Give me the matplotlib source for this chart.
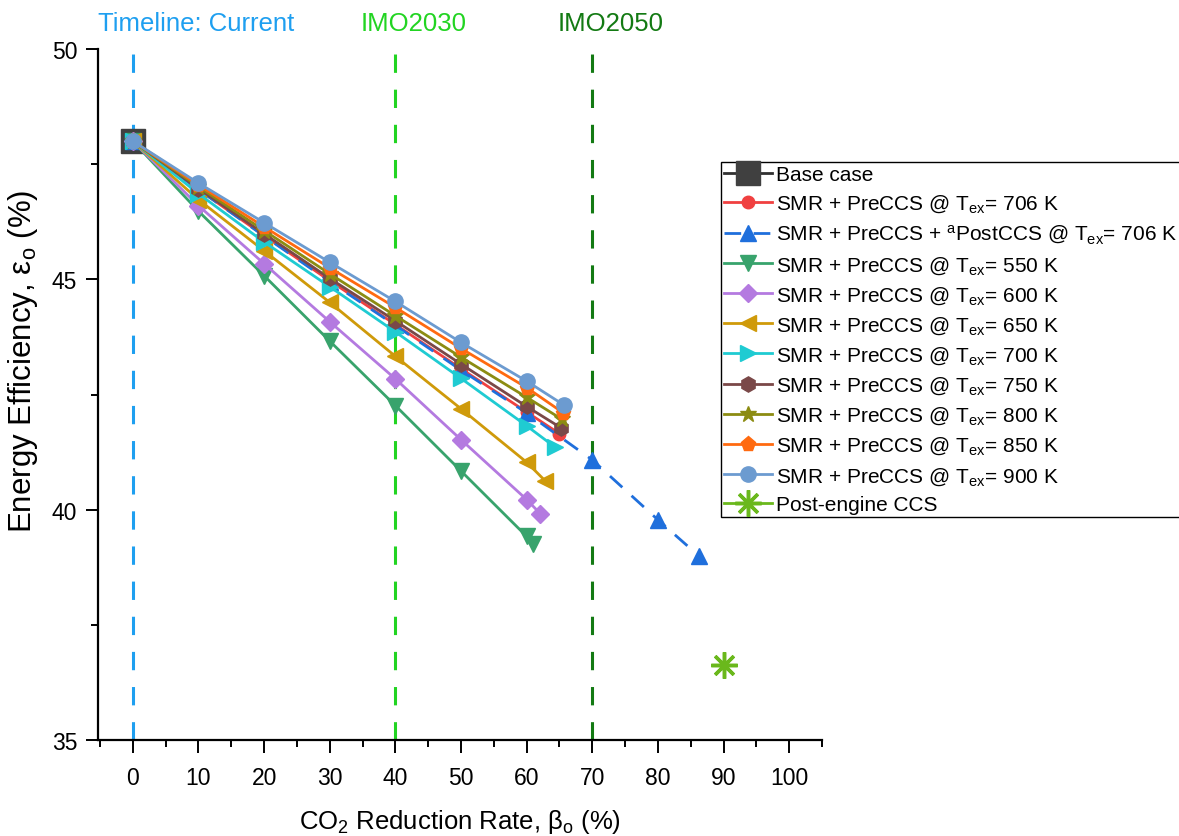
import matplotlib
matplotlib.use('Agg')
import matplotlib.pyplot as plt
from matplotlib.ticker import MultipleLocator
from matplotlib.transforms import blended_transform_factory

plt.rcParams['font.family'] = ['Liberation Sans', 'DejaVu Sans']
plt.rcParams['mathtext.fontset'] = 'custom'
plt.rcParams['mathtext.rm'] = 'Liberation Sans'
plt.rcParams['mathtext.it'] = 'Liberation Sans:italic'
plt.rcParams['mathtext.bf'] = 'Liberation Sans:bold'

# ---------------- data ----------------
base_x = [0]
base_y = [48.0]

x_706 = [0, 10, 20, 30, 40, 50, 60, 65.0]
y_706 = [48.0, 46.95, 45.95, 44.97, 44.02, 43.06, 42.12, 41.65]

x_post = [0, 10, 20, 30, 40, 50, 60, 70, 80, 86.2]
y_post = [48.0, 46.95, 45.94, 44.95, 44.00, 43.03, 42.10, 41.08, 39.78, 39.00]

x_550 = [0, 10, 20, 30, 40, 50, 60, 61.0]
y_550 = [48.0, 46.48, 45.08, 43.66, 42.26, 40.84, 39.42, 39.26]

x_600 = [0, 10, 20, 30, 40, 50, 60, 62.1]
y_600 = [48.0, 46.60, 45.34, 44.08, 42.84, 41.52, 40.22, 39.91]

x_650 = [0, 10, 20, 30, 40, 50, 60, 62.8]
y_650 = [48.0, 46.73, 45.62, 44.50, 43.33, 42.19, 41.03, 40.63]

x_700 = [0, 10, 20, 30, 40, 50, 60, 64.3]
y_700 = [48.0, 46.86, 45.81, 44.84, 43.86, 42.85, 41.82, 41.36]

x_750 = [0, 10, 20, 30, 40, 50, 60, 65.2]
y_750 = [48.0, 46.97, 45.99, 45.02, 44.10, 43.16, 42.24, 41.78]

x_800 = [0, 10, 20, 30, 40, 50, 60, 65.4]
y_800 = [48.0, 47.01, 46.06, 45.12, 44.21, 43.31, 42.44, 41.96]

x_850 = [0, 10, 20, 30, 40, 50, 60, 65.6]
y_850 = [48.0, 47.05, 46.14, 45.25, 44.39, 43.50, 42.65, 42.10]

x_900 = [0, 10, 20, 30, 40, 50, 60, 65.7]
y_900 = [48.0, 47.09, 46.23, 45.37, 44.52, 43.63, 42.79, 42.27]

post_engine_x = [90]
post_engine_y = [36.62]

timeline_x = [0, 40, 70]
timeline_labels = ['Timeline: Current', 'IMO2030', 'IMO2050']

x_ticks = [0, 10, 20, 30, 40, 50, 60, 70, 80, 90, 100]
y_ticks = [35, 40, 45, 50]

# ---------------- styles ----------------
timeline_colors = ['#1E9FF0', '#22D422', '#137A13']
TEX = r'T$_{\mathrm{ex}}$'

series = [
    (base_x, base_y, 'Base case', '#404040', 's', 17, '-'),
    (x_706, y_706, 'SMR + PreCCS @ ' + TEX + '= 706 K', '#F04040', 'o', 9, '-'),
    (x_post, y_post, r'SMR + PreCCS + $^{\mathrm{a}}$PostCCS @ ' + TEX + '= 706 K', '#1F6FDC', '^', 11, (0, (6, 4.5))),
    (x_550, y_550, 'SMR + PreCCS @ ' + TEX + '= 550 K', '#38A36C', 'v', 11, '-'),
    (x_600, y_600, 'SMR + PreCCS @ ' + TEX + '= 600 K', '#B47AE0', 'D', 9, '-'),
    (x_650, y_650, 'SMR + PreCCS @ ' + TEX + '= 650 K', '#CF9A0A', '<', 11, '-'),
    (x_700, y_700, 'SMR + PreCCS @ ' + TEX + '= 700 K', '#1FCBD2', '>', 11, '-'),
    (x_750, y_750, 'SMR + PreCCS @ ' + TEX + '= 750 K', '#7A4848', 'h', 11, '-'),
    (x_800, y_800, 'SMR + PreCCS @ ' + TEX + '= 800 K', '#8C8C12', '*', 12, '-'),
    (x_850, y_850, 'SMR + PreCCS @ ' + TEX + '= 850 K', '#FF6A10', 'p', 11, '-'),
    (x_900, y_900, 'SMR + PreCCS @ ' + TEX + '= 900 K', '#6C9BD0', 'o', 11, '-'),
]

fig = plt.figure(figsize=(11.79, 8.37), dpi=100)
ax = fig.add_axes([98 / 1179, 1 - 741 / 837, (822 - 98) / 1179, (741 - 50) / 837])

trans = blended_transform_factory(ax.transData, ax.transAxes)
for xv, lab, col in zip(timeline_x, timeline_labels, timeline_colors):
    ax.axvline(xv, color=col, lw=2.2, ls=(0, (6, 5.5)), zorder=1)
    ax.text(xv - 5.3, 1.037, lab, transform=trans, ha='left', va='center',
            color=col, fontsize=18.5)

for xs, ys, lab, col, mk, ms, ls in series:
    ax.plot(xs, ys, color=(col if lab != 'Base case' else '#303030'), lw=2.0, ls=ls,
            marker=mk, markersize=ms, markerfacecolor=col, markeredgecolor=col,
            label=lab, zorder=3)

ax.plot(post_engine_x, post_engine_y, ls='-', color='#6AB81C', lw=2.0,
        marker=(8, 2, 0), markersize=19, markeredgewidth=2.5,
        markeredgecolor='#6AB81C', label='Post-engine CCS', zorder=3)

ax.set_xlim(-5.3, 105)
ax.set_ylim(35, 50)
ax.set_xticks(x_ticks)
ax.xaxis.set_minor_locator(MultipleLocator(5))
ax.set_yticks(y_ticks)
ax.yaxis.set_minor_locator(MultipleLocator(2.5))
ax.tick_params(which='major', direction='out', length=9, width=1.4, labelsize=16.5, pad=6)
ax.tick_params(axis='x', which='major', pad=10)
ax.tick_params(which='minor', direction='out', length=5, width=1.4)

for s in ['top', 'right']:
    ax.spines[s].set_visible(False)
for s in ['left', 'bottom']:
    ax.spines[s].set_linewidth(1.6)

ax.set_xlabel(r'CO$_2$ Reduction Rate, β$_{\mathrm{o}}$ (%)', fontsize=18.5, labelpad=13)
ax.set_ylabel(r'Energy Efficiency, ε$_{\mathrm{o}}$ (%)', fontsize=22.5)
ax.yaxis.set_label_coords((40 - 98) / 724, (741 - 361) / 691)

leg = ax.legend(loc='upper left', bbox_to_anchor=(721 / 1179, 1 - 163 / 837),
                bbox_transform=fig.transFigure, fontsize=15, frameon=True,
                fancybox=False, edgecolor='black', framealpha=1,
                handlelength=2.3, handletextpad=0.2, borderpad=0.15,
                labelspacing=0.41, borderaxespad=0)
leg.get_frame().set_linewidth(1.0)

fig.savefig('out.png', dpi=100)
